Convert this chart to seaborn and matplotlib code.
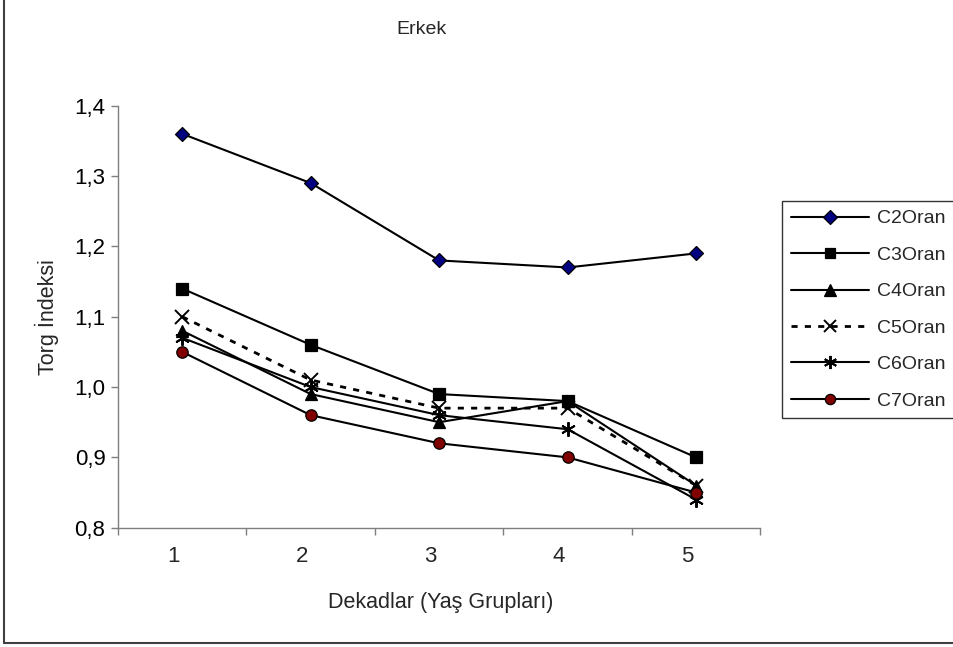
import matplotlib
matplotlib.use("Agg")
import matplotlib.pyplot as plt
import matplotlib.transforms as mtransforms
from matplotlib.lines import Line2D
import seaborn as sns
import pandas as pd

# ---- data ----
categories = ["1", "2", "3", "4", "5"]
c2 = [1.36, 1.29, 1.18, 1.17, 1.19]
c3 = [1.14, 1.06, 0.99, 0.98, 0.90]
c4 = [1.08, 0.99, 0.95, 0.98, 0.86]
c5 = [1.10, 1.01, 0.97, 0.97, 0.86]
c6 = [1.07, 1.00, 0.96, 0.94, 0.84]
c7 = [1.05, 0.96, 0.92, 0.90, 0.85]
series_names = ["C2Oran", "C3Oran", "C4Oran", "C5Oran", "C6Oran", "C7Oran"]
series_values = [c2, c3, c4, c5, c6, c7]
y_ticks = [0.8, 0.9, 1.0, 1.1, 1.2, 1.3, 1.4]
y_tick_labels = ["0,8", "0,9", "1,0", "1,1", "1,2", "1,3", "1,4"]
title = "Erkek"
x_label = "Dekadlar (Yaş Grupları)"
y_label = "Torg İndeksi"

sns.set_style("white")
plt.rcParams["font.family"] = ["Liberation Sans", "DejaVu Sans"]

W, H = 954, 647
fig = plt.figure(figsize=(W / 100, H / 100), dpi=100)
ax = fig.add_axes([118 / W, 1 - 527.7 / H, (760.3 - 118) / W, (527.7 - 105.7) / H])

LW = 1.5
DOT_LW = 2.0
styles = {
    "C2Oran": dict(marker="D", markerfacecolor="#000080", markersize=7.5, linestyle="-"),
    "C3Oran": dict(marker="s", markerfacecolor="black", markersize=8.3, linestyle="-"),
    "C4Oran": dict(marker="^", markerfacecolor="black", markersize=9, linestyle="-"),
    "C5Oran": dict(marker="x", markerfacecolor="black", markersize=9.5, linestyle=(0, (2.2, 2.6)),
                   markeredgewidth=1.4),
    "C6Oran": dict(marker=(6, 2, 0), markerfacecolor="black", markersize=10.5, linestyle="-",
                   markeredgewidth=1.4),
    "C7Oran": dict(marker="o", markerfacecolor="#800000", markersize=8.2, linestyle="-"),
}

for name, vals in zip(series_names, series_values):
    df = pd.DataFrame({"x": categories, "y": vals})
    st = styles[name]
    sns.lineplot(data=df, x="x", y="y", ax=ax, color="black", sort=False,
                 linewidth=DOT_LW if name == "C5Oran" else LW,
                 marker=st["marker"], markersize=st["markersize"],
                 markerfacecolor=st["markerfacecolor"], markeredgecolor="black",
                 markeredgewidth=st.get("markeredgewidth", 0.9),
                 linestyle=st["linestyle"], label=name, legend=False)

ax.set_xlim(-0.5, len(categories) - 0.5)
ax.set_ylim(0.8, 1.4)
ax.set_yticks(y_ticks)
ax.set_yticklabels(y_tick_labels)
ax.set_xticks([i - 0.5 for i in range(len(categories) + 1)])
ax.set_xticklabels([""] * (len(categories) + 1))
ax.set_xticks(range(len(categories)), minor=True)
ax.set_xticklabels(categories, minor=True)

FS_TICK = 16
FS_LAB = 15.5
axis_col = "#7f7f7f"
for s in ["top", "right"]:
    ax.spines[s].set_visible(False)
for s in ["left", "bottom"]:
    ax.spines[s].set_color(axis_col)
    ax.spines[s].set_linewidth(1.0)
ax.tick_params(axis="both", which="major", direction="out", length=5, width=1.0,
               color=axis_col, labelsize=FS_TICK, labelcolor="black", pad=6)
ax.tick_params(axis="x", which="major", bottom=True)
ax.tick_params(axis="y", which="major", left=True, pad=4)
ax.tick_params(axis="x", which="minor", bottom=True, length=0, labelsize=FS_TICK, pad=13)
offset = mtransforms.ScaledTranslation(-9 / 100, 0, fig.dpi_scale_trans)
for lab in ax.get_xticklabels(minor=True):
    lab.set_transform(lab.get_transform() + offset)

ax.set_xlabel(x_label, fontsize=FS_LAB, va="center")
ax.set_ylabel(y_label, fontsize=FS_LAB, va="center")
ax.xaxis.set_label_coords(0.502, -0.178)
ax.yaxis.set_label_coords(-0.1106, 0.5)
fig.text(422 / W, 1 - 29 / H, title, ha="center", va="center", fontsize=14)

# legend
handles = []
for name in series_names:
    st = styles[name]
    handles.append(Line2D([], [], color="black",
                          linewidth=DOT_LW if name == "C5Oran" else LW,
                          linestyle=st["linestyle"], marker=st["marker"],
                          markersize=st["markersize"], markerfacecolor=st["markerfacecolor"],
                          markeredgecolor="black",
                          markeredgewidth=st.get("markeredgewidth", 0.9)))
leg = fig.legend(handles, series_names, loc="upper left",
                 bbox_to_anchor=(782 / W, 1 - 201 / H), fontsize=14,
                 frameon=True, fancybox=False, edgecolor="black",
                 handlelength=4.0, handletextpad=0.45, labelspacing=0.97,
                 borderpad=0.45, borderaxespad=0, markerscale=0.9)
leg.get_frame().set_linewidth(1.0)

# outer chart border (left and bottom visible)
fig.add_artist(Line2D([4.5 / W, 4.5 / W], [1 - 643 / H, 1.0], color="#404040",
                      linewidth=1.5, transform=fig.transFigure))
fig.add_artist(Line2D([4.5 / W, 1.0], [1 - 643 / H, 1 - 643 / H], color="#404040",
                      linewidth=1.5, transform=fig.transFigure))

fig.savefig("out.png", dpi=100)
